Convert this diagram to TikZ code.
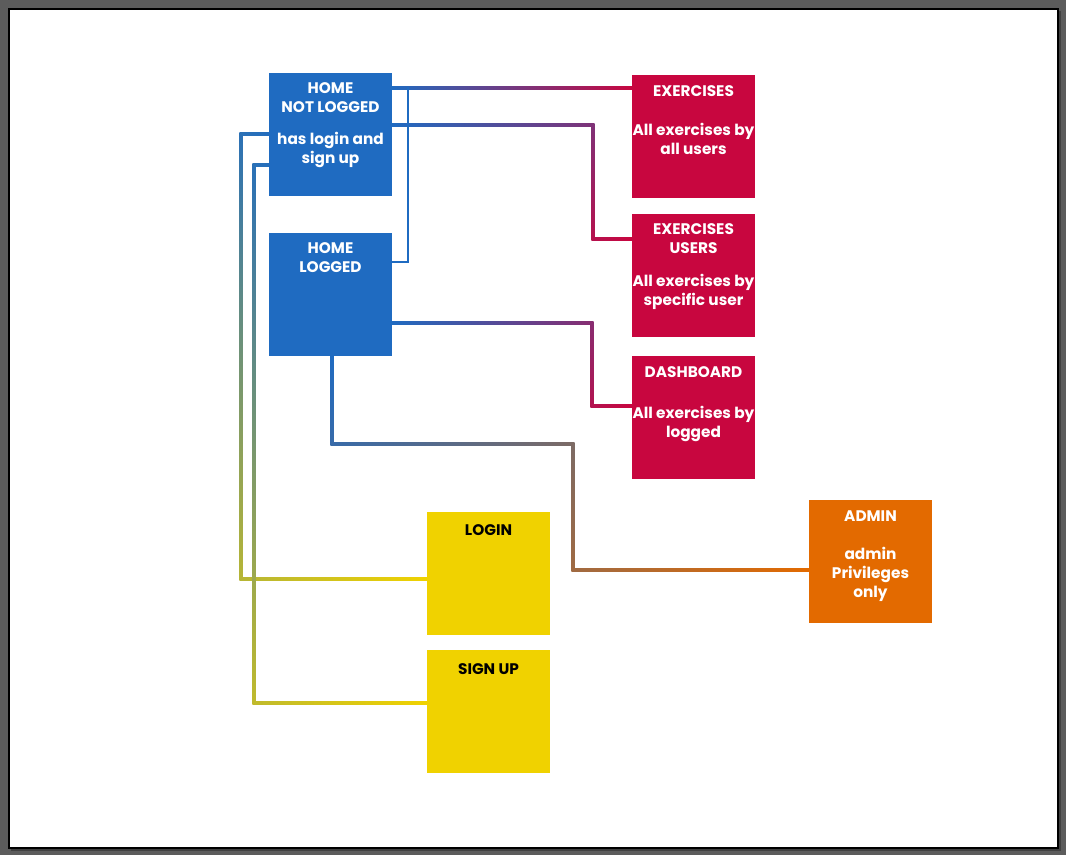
\documentclass[tikz,border=0pt]{standalone}
\usepackage{fontspec}
\setmainfont{Poppins}
\usetikzlibrary{calc,backgrounds}
\definecolor{hblue}{HTML}{1F6BC1}
\definecolor{hred}{HTML}{C8063F}
\definecolor{horange}{HTML}{E36A00}
\definecolor{hyellow}{HTML}{F0D200}
\definecolor{frame}{HTML}{5C5C5C}
\tikzset{
  box/.style={draw=none, minimum width=92.25pt, minimum height=92.25pt, inner sep=0pt},
  txt/.style={align=center, inner sep=0pt, font=\fontsize{11.5}{14.25}\selectfont\bfseries},
  conn/.style={line width=1.9pt, line cap=rect, line join=miter},
}
% gradient connector pieces: #1 left/top point, #2 right/bottom point, #3 colour at #1, #4 colour at #2
\newcommand\hseg[4]{\shade[left color=#3, right color=#4] ($(#1)+(-1.27,-1.27)$) rectangle ($(#2)+(1.27,1.27)$);}
\newcommand\vseg[4]{\shade[top color=#3, bottom color=#4] ($(#1)+(-1.27,-1.27)$) rectangle ($(#2)+(1.27,1.27)$);}
\begin{document}
\begin{tikzpicture}[x=0.75pt, y=-0.75pt]
\useasboundingbox (0,0) rectangle (1066,855);

% boxes (named)
\node[box, fill=hblue] (hnl) at (330.5,134.5) {};
\node[box, fill=hblue] (hl) at (330.5,294.5) {};
\node[box, fill=hred] (ex) at (693.5,136.5) {};
\node[box, fill=hred] (exu) at (693.5,275.5) {};
\node[box, fill=hred] (db) at (693.5,417.5) {};
\node[box, fill=horange] (ad) at (870.5,561.5) {};
\node[box, fill=hyellow] (li) at (488.5,573.5) {};
\node[box, fill=hyellow] (su) at (488.5,711.5) {};

% corner coordinates
\coordinate (c1) at (392,88);
\coordinate (c2a) at (593,125);
\coordinate (c2b) at (593,239);
\coordinate (c3a) at (408,262);
\coordinate (c3b) at (408,88);
\coordinate (c4a) at (592,323);
\coordinate (c4b) at (592,406);
\coordinate (c5a) at (332,444);
\coordinate (c5b) at (573,444);
\coordinate (c5c) at (573,570);
\coordinate (c6s) at (280,134);
\coordinate (c6a) at (241,134);
\coordinate (c6b) at (241,579);
\coordinate (c7s) at (293,165);
\coordinate (c7a) at (254,165);
\coordinate (c7b) at (254,703);

% named endpoints on the boxes
\coordinate (s1) at (hnl.east |- c1);
\coordinate (e1) at (ex.west |- c1);
\coordinate (s2) at (hnl.east |- c2a);
\coordinate (e2) at (exu.west |- c2b);
\coordinate (s3) at (hl.east |- c3a);
\coordinate (s4) at (hl.east |- c4a);
\coordinate (e4) at (db.west |- c4b);
\coordinate (s5) at (hl.south -| c5a);
\coordinate (e5) at (ad.west |- c5c);
\coordinate (e6) at (li.west |- c6b);
\coordinate (e7) at (su.west |- c7b);

\begin{scope}[on background layer]
\fill[frame] (0,0) rectangle (1066,855);
\fill[black!75] (11,11) rectangle (1061,851);
\fill[white] (9,9) rectangle (1058,848);
\draw[black, line width=0.9pt] (9,9) rectangle (1058,848);

% connectors
\hseg{s1}{e1}{hblue}{hred}
\hseg{s2}{c2a}{hblue}{hblue!43.2!hred}
\vseg{c2a}{c2b}{hblue!43.2!hred}{hblue!11!hred}
\hseg{c2b}{e2}{hblue!11!hred}{hred}
\draw[conn, hblue] (s3) -- (c3a) -- (c3b);
\hseg{s4}{c4a}{hblue}{hblue!38.1!hred}
\vseg{c4a}{c4b}{hblue!38.1!hred}{hblue!12.4!hred}
\hseg{c4b}{e4}{hblue!12.4!hred}{hred}
\vseg{s5}{c5a}{hblue}{hblue!87.3!horange}
\hseg{c5a}{c5b}{hblue!87.3!horange}{hblue!52.4!horange}
\vseg{c5b}{c5c}{hblue!52.4!horange}{hblue!34.2!horange}
\hseg{c5c}{e5}{hblue!34.2!horange}{horange}
\hseg{c6a}{c6s}{hblue!94.2!hyellow}{hblue}
\vseg{c6a}{c6b}{hblue!94.2!hyellow}{hblue!27.8!hyellow}
\hseg{c6b}{e6}{hblue!27.8!hyellow}{hyellow}
\hseg{c7a}{c7s}{hblue!94.8!hyellow}{hblue}
\vseg{c7a}{c7b}{hblue!94.8!hyellow}{hblue!23.1!hyellow}
\hseg{c7b}{e7}{hblue!23.1!hyellow}{hyellow}
\end{scope}

% texts
\node[txt, white] (t1) at ($(hnl.north)+(0,24.5)$) {HOME\\NOT LOGGED};
\node[txt, white] (t1b) at ($(hnl.north)+(0,77)$) {has login and\\sign up};
\node[txt, white] (t2) at ($(hl.north)+(0,24.5)$) {HOME\\LOGGED};
\node[txt, white] (t3) at ($(ex.north)+(0,16)$) {EXERCISES};
\node[txt, white] (t3b) at ($(ex.north)+(0,64)$) {All exercises by\\all users};
\node[txt, white] (t4) at ($(exu.north)+(0,25)$) {EXERCISES\\USERS};
\node[txt, white] (t4b) at ($(exu.north)+(0,78.5)$) {All exercises by\\specific user};
\node[txt, white] (t5) at ($(db.north)+(0,16)$) {DASHBOARD};
\node[txt, white] (t5b) at ($(db.north)+(0,68.5)$) {All exercises by\\logged};
\node[txt, white] (t6) at ($(ad.north)+(0,16.5)$) {ADMIN};
\node[txt, white] (t6b) at ($(ad.north)+(0,75)$) {admin\\Privileges\\only};
\node[txt, black] (t7) at ($(li.north)+(0,18.5)$) {LOGIN};
\node[txt, black] (t8) at ($(su.north)+(0,19.5)$) {SIGN UP};
\end{tikzpicture}
\end{document}
